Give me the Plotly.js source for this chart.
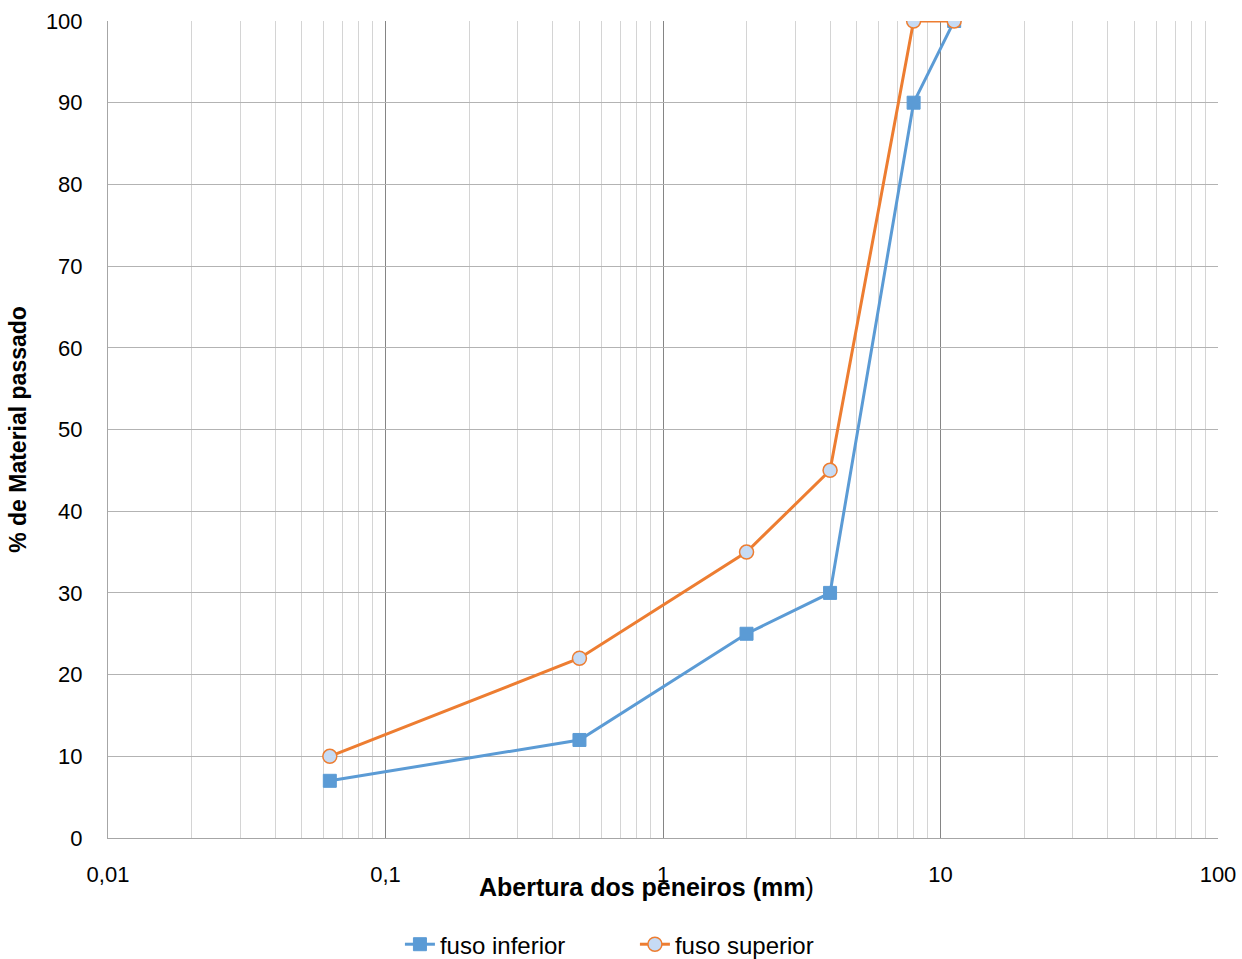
<!DOCTYPE html>
<html>
<head>
<meta charset="utf-8">
<script src="https://cdn.plot.ly/plotly-3.0.1.min.js"></script>
<style>html,body{margin:0;padding:0;background:#fff;}#chart{width:1242px;height:959px;}</style>
</head>
<body>
<div id="chart"></div>
<script>
// Data
var aberturas = [0.063, 0.5, 2, 4, 8, 11.2];
var fusoInferior = [7, 12, 25, 30, 90, 100];
var fusoSuperior = [10, 22, 35, 45, 100, 100];
var xTickVals = [0.01, 0.1, 1, 10, 100];
var xTickText = ['0,01', '0,1', '1', '10', '100'];
var yTickVals = [0, 10, 20, 30, 40, 50, 60, 70, 80, 90, 100];

var fontFam = 'Liberation Sans, Noto Sans, sans-serif';

var traces = [
  {
    x: aberturas, y: fusoInferior, name: 'fuso inferior',
    type: 'scatter', mode: 'lines+markers',
    line: {color: '#5b9bd5', width: 3},
    marker: {symbol: 'square', size: 13, color: '#5b9bd5', line: {color: '#5b9bd5', width: 1}}
  },
  {
    x: aberturas, y: fusoSuperior, name: 'fuso superior',
    type: 'scatter', mode: 'lines+markers',
    line: {color: '#ed7d31', width: 3},
    marker: {symbol: 'circle', size: 14, color: '#c6dbf5', line: {color: '#ed7d31', width: 1.5}}
  }
];

var layout = {
  width: 1242, height: 959,
  margin: {l: 108, r: 24, t: 21, b: 121},
  paper_bgcolor: '#ffffff', plot_bgcolor: '#ffffff',
  font: {family: fontFam, size: 22, color: '#000'},
  showlegend: true,
  legend: {
    orientation: 'h', x: 0.322, xref: 'container', xanchor: 'left',
    y: 0.015, yref: 'container', yanchor: 'middle',
    entrywidth: 190, entrywidthmode: 'pixels',
    font: {family: fontFam, size: 24, color: '#000'}
  },
  xaxis: {
    type: 'log', range: [-2, 2],
    tickvals: xTickVals, ticktext: xTickText,
    ticks: '', ticklabelstandoff: 17,
    showgrid: true, gridcolor: '#858585', gridwidth: 1,
    minor: {dtick: 'D1', showgrid: true, gridcolor: '#d4d4d4', gridwidth: 1, ticks: ''},
    showline: true, linecolor: '#a6a6a6', linewidth: 1,
    zeroline: false, automargin: false,
    tickfont: {family: fontFam, size: 22, color: '#000'}
  },
  yaxis: {
    range: [0, 100], tickvals: yTickVals,
    ticks: '', ticklabelstandoff: 20,
    showgrid: true, gridcolor: '#b3b3b3', gridwidth: 1,
    showline: true, linecolor: '#a6a6a6', linewidth: 1,
    zeroline: false, automargin: false,
    title: {text: '% de Material passado', font: {family: fontFam, size: 23, color: '#000', weight: 'bold'}, standoff: 12},
    tickfont: {family: fontFam, size: 22, color: '#000'}
  },
  annotations: [
    {
      text: '<b>Abertura dos peneiros (mm</b>)', xref: 'paper', yref: 'paper',
      x: 0.4847, y: -0.06, xanchor: 'center', yanchor: 'middle', showarrow: false,
      font: {family: fontFam, size: 25, color: '#000'}
    }
  ]
};

Plotly.newPlot('chart', traces, layout, {displayModeBar: false, staticPlot: true});
</script>
</body>
</html>
